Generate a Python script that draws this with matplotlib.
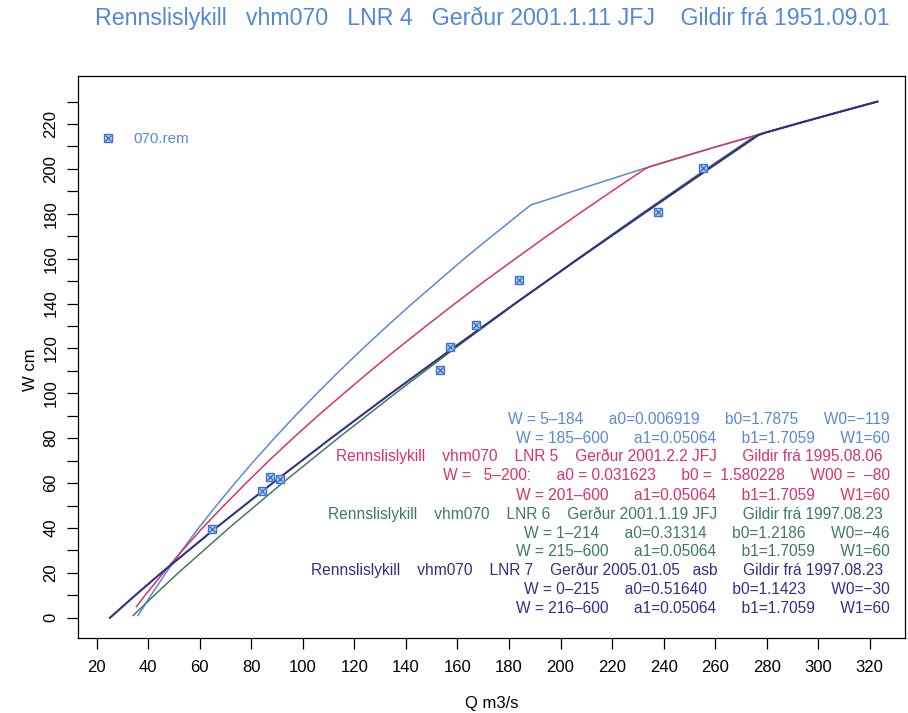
import matplotlib
matplotlib.use('Agg')
import matplotlib.pyplot as plt

plt.rcParams['font.family'] = ['Liberation Sans', 'DejaVu Sans']

# rennslislyklar, W [cm] og Q [m3/s] lesið af myndinni
w_lnr4 = [1, 10, 20, 30, 40, 50, 60, 70, 80, 90, 100, 110, 120, 130, 140, 150, 160, 170, 184,
          185, 190, 200, 210, 216, 220, 225, 230]
q_lnr4 = [36.0, 41.0, 46.8, 53.0, 59.5, 66.4, 73.6, 81.1, 88.9, 97.0, 105.5, 114.2, 123.3, 132.7, 142.4,
          152.5, 162.6, 173.3, 188.5, 191.4, 204.7, 231.8, 260.8, 279.0, 291.3, 307.0, 323.0]

w_lnr5 = [5, 10, 20, 30, 40, 50, 60, 70, 80, 90, 100, 110, 120, 130, 140, 150, 160, 170, 180, 190, 200,
          201, 205, 210, 216, 220, 225, 230]
q_lnr5 = [35.4, 38.7, 45.8, 53.2, 61.0, 69.3, 77.9, 86.8, 96.1, 105.8, 115.9, 126.2, 136.8, 147.8, 159.0,
          170.5, 182.5, 194.6, 207.1, 219.8, 232.8, 234.7, 246.1, 260.8, 279.0, 291.3, 307.0, 323.0]

w_lnr6 = [1, 10, 20, 40, 60, 80, 100, 120, 140, 160, 180, 200, 214, 215, 220, 225, 230]
q_lnr6 = [34.1, 42.3, 51.6, 71.3, 92.0, 113.6, 135.9, 158.9, 182.5, 206.7, 231.4, 256.6, 274.6, 275.9,
          291.3, 307.0, 323.0]

w_lnr7 = [0, 10, 20, 40, 60, 80, 100, 120, 140, 160, 180, 200, 215, 216, 220, 225, 230]
q_lnr7 = [25.1, 34.9, 45.0, 66.2, 88.2, 110.9, 134.2, 158.1, 182.3, 207.0, 232.1, 257.5, 276.7, 279.0,
          291.3, 307.0, 323.0]

# mælingar 070.rem
q_rem = [64.8, 84.2, 87.4, 91.2, 153.2, 157.2, 167.2, 184.0, 238.0, 255.4]
w_rem = [39.4, 56.3, 62.6, 61.9, 110.2, 120.5, 130.6, 150.7, 180.6, 200.3]

x_ticks = list(range(20, 321, 20))
y_ticks = list(range(0, 221, 20))
y_minor = list(range(10, 231, 20))

c_blue = '#5a8ad4'
c_red = '#d8336a'
c_green = '#3f7c5f'
c_navy = '#332e88'

title = 'Rennslislykill   vhm070   LNR 4   Gerður 2001.1.11 JFJ    Gildir frá 1951.09.01'

info_lines = [
    ('W = 5\u2013184      a0=0.006919      b0=1.7875      W0=\u2212119', c_blue),
    ('W = 185\u2013600      a1=0.05064      b1=1.7059      W1=60', c_blue),
    ('Rennslislykill    vhm070    LNR 5    Gerður 2001.2.2 JFJ      Gildir frá 1995.08.06', c_red),
    ('W =   5\u2013200:      a0 = 0.031623      b0 =  1.580228      W00 =  \u201380', c_red),
    ('W = 201\u2013600      a1=0.05064      b1=1.7059      W1=60', c_red),
    ('Rennslislykill    vhm070    LNR 6    Gerður 2001.1.19 JFJ      Gildir frá 1997.08.23', c_green),
    ('W = 1\u2013214      a0=0.31314      b0=1.2186      W0=\u221246', c_green),
    ('W = 215\u2013600      a1=0.05064      b1=1.7059      W1=60', c_green),
    ('Rennslislykill    vhm070    LNR 7    Gerður 2005.01.05   asb      Gildir frá 1997.08.23', c_navy),
    ('W = 0\u2013215      a0=0.51640      b0=1.1423      W0=\u221230', c_navy),
    ('W = 216\u2013600      a1=0.05064      b1=1.7059      W1=60', c_navy),
]

fig = plt.figure(figsize=(9.08, 7.13), dpi=100)
ax = fig.add_axes([78/908, 1-638/713, 827/908, 562/713])

ax.plot(q_lnr4, w_lnr4, color=c_blue, lw=1.1)
ax.plot(q_lnr5, w_lnr5, color=c_red, lw=1.1)
ax.plot(q_lnr6, w_lnr6, color=c_green, lw=1.1)
ax.plot(q_lnr7, w_lnr7, color=c_navy, lw=1.5)

sq, = ax.plot(q_rem, w_rem, ls='none', marker='s', ms=6.0, mfc='#bcd0f0', mec='#3d74cc', mew=1.0)
xx, = ax.plot(q_rem, w_rem, ls='none', marker='x', ms=4.2, mec='#3d74cc', mew=1.0)

leg = ax.legend([(sq, xx)], ['070.rem'], loc='upper left', bbox_to_anchor=(0.008, 0.925),
                frameon=False, handlelength=1.2, handletextpad=1.1, fontsize=11)
for t in leg.get_texts():
    t.set_color(c_blue)

ax.set_xlim(12.7, 333.7)
ax.set_ylim(-9.0, 241.4)
ax.set_xticks(x_ticks)
ax.set_yticks(y_ticks)
ax.set_yticks(y_minor, minor=True)
ax.tick_params(axis='both', which='both', direction='out', length=8, width=0.9, labelsize=12, pad=8)
ax.tick_params(axis='y', labelrotation=90, pad=6)
for lab in ax.get_yticklabels():
    lab.set_va('center')
for s in ax.spines.values():
    s.set_linewidth(0.9)

ax.set_xlabel('Q m3/s', fontsize=12, va='center')
ax.set_ylabel('W cm', fontsize=12, va='center')
ax.xaxis.set_label_coords(0.5, -0.116)
ax.yaxis.set_label_coords(-0.058, 0.477)

fig.text(95/908, 1-18/713, title, color='#5288d8', fontsize=16.7, ha='left', va='center')

y_rows = [419.3, 438.7, 456.7, 476.0, 495.0, 514.3, 533.3, 551.7, 570.7, 590.0, 608.3]
for (txt, col), yp in zip(info_lines, y_rows):
    xr = 883 if txt.startswith('Renn') else 890
    ax.text((xr-78)/827, (638-yp)/562, txt, transform=ax.transAxes, color=col,
            fontsize=11.2, ha='right', va='center')

fig.savefig('out.png', dpi=100)
